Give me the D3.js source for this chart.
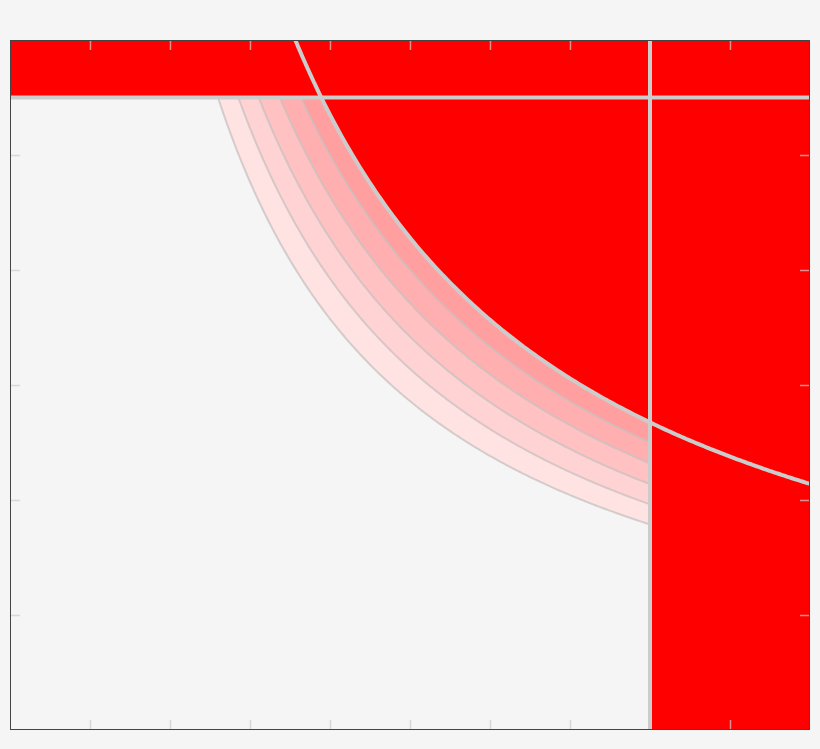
<!DOCTYPE html>
<html>
<head>
<meta charset="utf-8">
<script src="https://cdn.jsdelivr.net/npm/d3@7"></script>
<style>
  html, body { margin: 0; padding: 0; background: #f5f5f5; }
</style>
</head>
<body>
<div id="chart"></div>
<script>
// axis extents and tick values
const xDomain = [0, 10];
const yDomain = [0, 6];
const xTicks = [1, 2, 3, 4, 5, 6, 7, 8, 9];
const yTicks = [1, 2, 3, 4, 5];

// constraint limits
const xLimit = 8;
const yLimit = 5.5;
const mainLevel = 21.4;           // x * y boundary of the red region
const bandLevels = [14.3, 15.7, 17.1, 18.55, 20.0];
const bandColors = ["#ffe3e3", "#ffd3d3", "#ffc1c1", "#ffafaf", "#ff9f9f"];

const margin = { top: 40, right: 10, bottom: 19, left: 10 };
const width = 820 - margin.left - margin.right;
const height = 749 - margin.top - margin.bottom;

const svg = d3.select("#chart")
  .append("svg")
  .attr("width", width + margin.left + margin.right)
  .attr("height", height + margin.top + margin.bottom)
  .append("g")
  .attr("transform", `translate(${margin.left},${margin.top})`);

const x = d3.scaleLinear().domain(xDomain).range([0, width]);
const y = d3.scaleLinear().domain(yDomain).range([height, 0]);

svg.append("clipPath")
  .attr("id", "plot-clip")
  .append("rect")
  .attr("width", width)
  .attr("height", height);

const plot = svg.append("g").attr("clip-path", "url(#plot-clip)");

plot.append("rect")
  .attr("width", width)
  .attr("height", height)
  .attr("fill", "#f5f5f5");

const line = d3.line().x(d => x(d[0])).y(d => y(d[1]));

// points on x*y = k between x0 and x1
function curvePoints(k, x0, x1) {
  return d3.range(0, 201).map(i => {
    const xv = x0 + (x1 - x0) * i / 200;
    return [xv, k / xv];
  });
}

// pink bands, lightest first
bandLevels.forEach((k, i) => {
  const pts = curvePoints(k, k / yLimit, xLimit);
  pts.push([xLimit, yLimit]);
  plot.append("path")
    .attr("d", line(pts) + "Z")
    .attr("fill", bandColors[i]);
});

// red region
plot.append("rect")
  .attr("x", 0)
  .attr("y", y(yDomain[1]))
  .attr("width", width)
  .attr("height", y(yLimit) - y(yDomain[1]))
  .attr("fill", "#ff0000");

plot.append("rect")
  .attr("x", x(xLimit))
  .attr("y", 0)
  .attr("width", x(xDomain[1]) - x(xLimit))
  .attr("height", height)
  .attr("fill", "#ff0000");

const mainPts = curvePoints(mainLevel, mainLevel / yDomain[1], xDomain[1]);
mainPts.push([xDomain[1], yDomain[1]]);
plot.append("path")
  .attr("d", line(mainPts) + "Z")
  .attr("fill", "#ff0000");

// band boundary lines
bandLevels.forEach(k => {
  plot.append("path")
    .attr("d", line(curvePoints(k, k / yLimit, xLimit)))
    .attr("fill", "none")
    .attr("stroke", "#c8c0c0")
    .attr("stroke-opacity", 0.75)
    .attr("stroke-width", 2);
});

// main boundary lines
plot.append("path")
  .attr("d", line(curvePoints(mainLevel, mainLevel / yDomain[1], xDomain[1])))
  .attr("fill", "none")
  .attr("stroke", "#cccccc")
  .attr("stroke-width", 4);

plot.append("line")
  .attr("x1", 0).attr("x2", width)
  .attr("y1", y(yLimit)).attr("y2", y(yLimit))
  .attr("stroke", "#cccccc")
  .attr("stroke-width", 4);

plot.append("line")
  .attr("x1", x(xLimit)).attr("x2", x(xLimit))
  .attr("y1", 0).attr("y2", height)
  .attr("stroke", "#cccccc")
  .attr("stroke-width", 4);

// inward ticks on all sides
const tickStyle = g => g.selectAll("line")
  .attr("stroke", "#cccccc")
  .attr("stroke-opacity", 0.7)
  .attr("stroke-width", 1.5);

const axes = [
  { axis: d3.axisBottom(x).tickValues(xTicks).tickSizeInner(-10), t: `translate(0,${height})` },
  { axis: d3.axisTop(x).tickValues(xTicks).tickSizeInner(-10), t: "translate(0,0)" },
  { axis: d3.axisLeft(y).tickValues(yTicks).tickSizeInner(-10), t: "translate(0,0)" },
  { axis: d3.axisRight(y).tickValues(yTicks).tickSizeInner(-10), t: `translate(${width},0)` }
];

axes.forEach(a => {
  const g = svg.append("g")
    .attr("transform", a.t)
    .call(a.axis.tickSizeOuter(0).tickFormat(""));
  g.select(".domain").remove();
  g.call(tickStyle);
});

// frame
svg.append("rect")
  .attr("x", 0.5)
  .attr("y", 0.5)
  .attr("width", width - 1)
  .attr("height", height - 1)
  .attr("fill", "none")
  .attr("stroke", "#444444")
  .attr("stroke-width", 1);
</script>
</body>
</html>
